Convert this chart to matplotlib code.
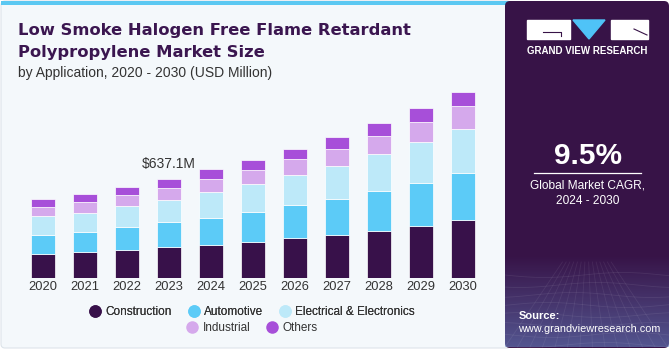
import numpy as np
import matplotlib.pyplot as plt
from matplotlib.patches import Rectangle, FancyBboxPatch, Polygon
from matplotlib.lines import Line2D

# values (USD Million)
years = ['2020', '2021', '2022', '2023', '2024', '2025', '2026', '2027', '2028', '2029', '2030']
construction = [155.9, 166.8, 181.6, 198.9, 215.6, 232.9, 256.6, 277.8, 303.5, 333.6, 372.1]
automotive = [121.9, 130.2, 145.6, 160.4, 169.4, 190.6, 211.7, 231.0, 256.6, 279.7, 301.6]
electrical = [121.9, 123.8, 136.7, 145.0, 168.7, 181.6, 192.5, 213.7, 235.5, 259.2, 282.3]
industrial = [59.7, 66.7, 70.6, 77.0, 81.5, 91.7, 102.7, 109.1, 119.3, 132.2, 147.6]
others = [47.5, 51.3, 53.3, 55.8, 64.2, 62.2, 64.2, 73.1, 81.5, 86.0, 93.7]

series = ['Construction', 'Automotive', 'Electrical & Electronics', 'Industrial', 'Others']
colors = ['#38114a', '#5ccbf7', '#bde9f9', '#d5a9ec', '#a74fd9']
data = [construction, automotive, electrical, industrial, others]

W, H = 671, 350
fig = plt.figure(figsize=(6.71, 3.5), dpi=100)
fig.patch.set_facecolor('white')

# background layer in pixel coords
bg = fig.add_axes([0, 0, 1, 1])
bg.set_xlim(0, W)
bg.set_ylim(H, 0)
bg.axis('off')

bg.add_patch(FancyBboxPatch((1, 1), 510, 347, boxstyle='round,pad=0,rounding_size=4',
                            fc='#f4f8fb', ec='#dde4ea', lw=0.8))
bg.add_patch(Rectangle((1, 0.5), 510, 4.5, color='#5bc8f2', lw=0))

# right panel
bg.add_patch(FancyBboxPatch((505, 1), 164, 347, boxstyle='round,pad=0,rounding_size=5',
                            fc='#371347', ec='none'))
grad = np.zeros((100, 2, 4))
c = np.array([0.42, 0.55, 0.80])
grad[:, :, :3] = c
grad[:, :, 3] = np.linspace(0, 0.55, 100)[:, None]
bg.imshow(grad, extent=[505, 669, 347, 255], aspect='auto', zorder=2)
# faint grid lines in the lower panel
for k in range(8):
    yy = 275 + k * 10
    xs = np.linspace(505, 669, 50)
    bg.plot(xs, yy + 2.5 * np.sin((xs - 505) / 25 + k), color='white', alpha=0.08, lw=0.6, zorder=3)
for k in range(14):
    x0 = 505 + k * 12.5
    bg.plot([587 + (x0 - 587) * 0.3, x0], [262, 347], color='white', alpha=0.07, lw=0.6, zorder=3)

# logo
bg.add_patch(Rectangle((527, 20), 43, 19, color='white', zorder=4))
bg.plot([543, 561, 561], [31.5, 31.5, 36], color='#371347', lw=0.8, zorder=5)
bg.add_patch(Polygon([[573, 20], [605, 20], [589, 39]], closed=True, color='#4fc3f7', zorder=4))
bg.add_patch(Rectangle((611, 20), 37, 19, color='white', zorder=4))
bg.plot([634, 647], [29, 35], color='#371347', lw=0.8, zorder=5)
bg.text(587.5, 51, 'GRAND VIEW RESEARCH', color='white', fontsize=7, fontweight='bold',
        family='Liberation Sans', ha='center', va='center', zorder=5)

bg.text(588, 156, '9.5%', color='white', fontsize=21.5, fontweight='bold',
        family='Liberation Sans', ha='center', va='center', zorder=5)
bg.plot([534, 641], [173.3, 173.3], color='white', lw=0.9, zorder=5)
bg.text(588, 185, 'Global Market CAGR,', color='white', fontsize=8.6,
        family='Liberation Sans', ha='center', va='center', zorder=5)
bg.text(588, 201, '2024 - 2030', color='white', fontsize=8.6,
        family='Liberation Sans', ha='center', va='center', zorder=5)
bg.text(518.5, 316, 'Source:', color='white', fontsize=8, fontweight='bold',
        family='Liberation Sans', ha='left', va='center', zorder=5)
bg.text(518.5, 329.5, 'www.grandviewresearch.com', color='white', fontsize=7.8,
        family='Liberation Sans', ha='left', va='center', zorder=5)

# titles
bg.text(18, 35, 'Low Smoke Halogen Free Flame Retardant', color='#3b1650', fontsize=11.8,
        fontweight='bold', family='DejaVu Sans', ha='left', va='baseline')
bg.text(18, 56.7, 'Polypropylene Market Size', color='#3b1650', fontsize=11.8,
        fontweight='bold', family='DejaVu Sans', ha='left', va='baseline')
bg.text(18, 76.5, 'by Application, 2020 - 2030 (USD Million)', color='#333333', fontsize=10,
        family='Liberation Sans', ha='left', va='baseline')

# chart
ax = fig.add_axes([22 / W, 71.7 / H, 462 / W, 193.3 / H])
ax.patch.set_alpha(0)
x = np.arange(len(years))
bottom = np.zeros(len(years))
for name, vals, col in zip(series, data, colors):
    ax.bar(x, vals, 0.57, bottom=bottom, color=col, edgecolor='white', linewidth=0.5, label=name)
    bottom += np.array(vals)

ax.set_xlim(-0.5, 10.5)
ax.set_ylim(0, 1240)
ax.set_xticks(x)
ax.set_xticklabels(years, fontsize=9.3, color='#333333', family='Liberation Sans')
ax.tick_params(axis='x', length=0, pad=2)
ax.set_yticks([])
for s in ax.spines.values():
    s.set_visible(False)

ax.annotate('$637.1M', (3, bottom[3]), xytext=(0, 11), textcoords='offset points',
            ha='center', va='center', fontsize=10, color='#333333', family='Liberation Sans')

# legend, two centered rows
handles = [Line2D([], [], marker='o', ls='', markersize=8, mfc=c, mec=c) for c in colors]
kw = dict(frameon=False, loc='center', handlelength=0.8, handletextpad=0.45,
          columnspacing=1.45, borderpad=0, prop={'family': 'Liberation Sans', 'size': 8.5},
          labelcolor='#333333')
leg1 = fig.legend(handles[:3], series[:3], ncol=3, bbox_to_anchor=(252.5 / W, 1 - 312.3 / H), **kw)
fig.add_artist(leg1)
fig.legend(handles[3:], series[3:], ncol=2, bbox_to_anchor=(252.5 / W, 1 - 328.3 / H), **kw)

fig.savefig('out.png', dpi=100)
